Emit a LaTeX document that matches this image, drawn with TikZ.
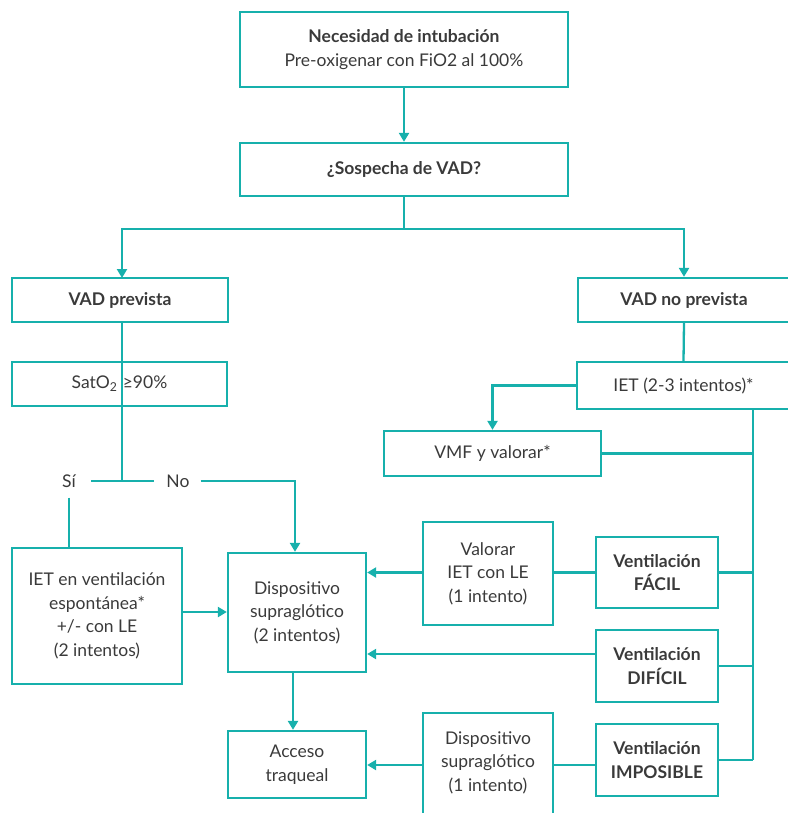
\documentclass[tikz,border=0pt]{standalone}
\usepackage{fontspec}
\setmainfont{Lato}
\usetikzlibrary{arrows.meta}
\definecolor{teal1}{HTML}{17B0AC}
\definecolor{txt}{HTML}{3A3A3A}
\begin{document}
\begin{tikzpicture}[x=1pt,y=-1pt,
  box/.style={draw=teal1,line width=2.3pt,inner sep=2pt,align=center,text=txt,font=\fontsize{17.5}{23.5}\selectfont},
  lbl/.style={inner sep=0pt,text=txt,font=\fontsize{17.5}{23.5}\selectfont},
  ln/.style={draw=teal1,line width=2.3pt},
  arr/.style={ln,-{Triangle[length=9pt,width=10pt]}}]
\useasboundingbox (0,0) rectangle (787,813);
% boxes
\node[box,minimum width=328pt,minimum height=75pt] (top) at (404,49.5) {\textbf{Necesidad de intubación}\\Pre-oxigenar con FiO2 al 100\%};
\node[box,minimum width=328pt,minimum height=53pt] (sosp) at (404,169.5) {\textbf{¿Sospecha de VAD?}};
\node[box,minimum width=216pt,minimum height=44pt] (vadp) at (120,300) {\textbf{VAD prevista}};
\node[box,minimum width=212pt,minimum height=44pt] (vadnp) at (684,300) {\textbf{VAD no prevista}};
\node[box,minimum width=215pt,minimum height=44pt] (sat) at (119.5,384) {SatO\textsubscript{2}\hspace{0.3em}≥90\%};
\node[box,minimum width=213pt,minimum height=47pt] (iet) at (683.5,385.5) {IET (2-3 intentos)*};
\node[box,minimum width=217pt,minimum height=45pt] (vmf) at (492.5,453.5) {VMF y valorar*};
\node[box,minimum width=170pt,minimum height=136pt] (ietesp) at (97,616) {IET en ventilación\\espontánea*\\+/- con LE\\(2 intentos)};
\node[box,minimum width=138pt,minimum height=119pt] (disp2) at (297,612.5) {Dispositivo\\supraglótico\\(2 intentos)};
\node[box,minimum width=138pt,minimum height=67pt] (acc) at (297,764.5) {Acceso\\traqueal};
\node[box,minimum width=130pt,minimum height=103pt] (val) at (488,573.5) {Valorar\\IET con LE\\(1 intento)};
\node[box,minimum width=122pt,minimum height=71pt] (facil) at (657,572.5) {\textbf{Ventilación}\\\textbf{FÁCIL}};
\node[box,minimum width=122pt,minimum height=72pt] (dif) at (657,666) {\textbf{Ventilación}\\\textbf{DIFÍCIL}};
\node[box,minimum width=122pt,minimum height=72pt] (imp) at (657,760) {\textbf{Ventilación}\\\textbf{IMPOSIBLE}};
\node[box,minimum width=130pt,minimum height=107pt,text depth=10pt] (disp1) at (488,766.5) {Dispositivo\\supraglótico\\(1 intento)};
% labels
\node[lbl] (si) at (69,481) {Sí};
\node[lbl] (no) at (178,481) {No};
% coordinates
\coordinate (j1) at (404,229);
\coordinate (j2) at (122,481);
\coordinate (rv) at (753,409);
% connectors
\draw[arr] (top.south) -- (sosp.north);
\draw[ln] (sosp.south) -- (j1);
\draw[arr] (j1) -| (122,278);
\draw[arr] (j1) -| (vadnp.north);
\draw[ln] (vadp.south -| j2) -- (sat.south -| j2);
\draw[ln] (sat.south -| j2) -- (j2);
\draw[ln] ([xshift=-31pt]j2) -- ([xshift=32pt]j2);
\draw[arr] ([xshift=11pt]no.east) -| (disp2.north -| 295,0);
\draw[ln] ([yshift=-10pt]si.south) -- (ietesp.north -| si);
\draw[arr] (ietesp.east |- 0,612) -- (disp2.west |- 0,612);
\draw[arr] (disp2.south -| 293,0) -- (acc.north -| 293,0);
\draw[ln] (vadnp.south) -- (iet.north);
\draw[arr] (iet.west) -| (vmf.north);
\draw[ln] (iet.south -| rv) -- (imp.east -| rv);
\draw[ln] (vmf.east) -- (vmf.east -| rv);
\draw[ln] (facil.east) -- (facil.east -| rv);
\draw[ln] (dif.east) -- (dif.east -| rv);
\draw[ln] (imp.east) -- (imp.east -| rv);
\draw[ln] (facil.west) -- (val.east |- facil.west);
\draw[arr] (val.west |- facil.west) -- (disp2.east |- facil.west);
\draw[arr] (dif.west |- 0,654) -- (disp2.east |- 0,654);
\draw[ln] (imp.west |- 0,765) -- (disp1.east |- 0,765);
\draw[arr] (disp1.west |- 0,765) -- (acc.east |- 0,765);
\end{tikzpicture}
\end{document}
